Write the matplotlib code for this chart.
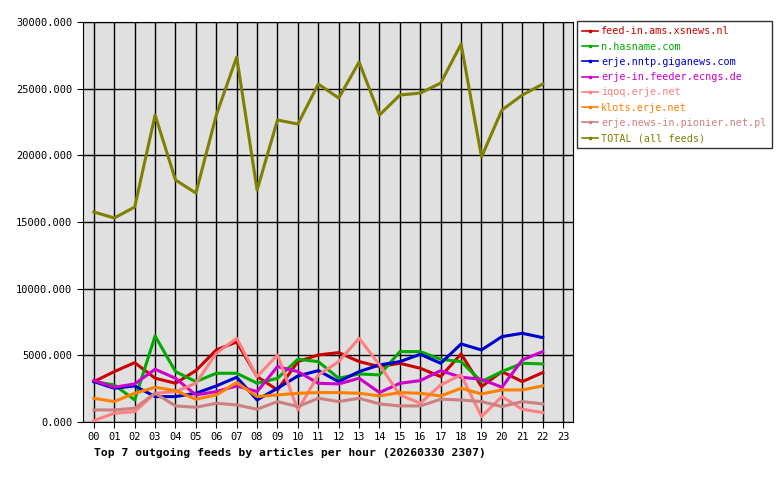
import matplotlib
matplotlib.use("Agg")
import matplotlib.pyplot as plt
from matplotlib.lines import Line2D

hours = [f"{h:02d}" for h in range(24)]
names = ["feed-in.ams.xsnews.nl", "n.hasname.com", "erje.nntp.giganews.com",
         "erje-in.feeder.ecngs.de", "iqoq.erje.net", "klots.erje.net",
         "erje.news-in.pionier.net.pl", "TOTAL (all feeds)"]
colors = ["#cc0000", "#00aa00", "#0000cc", "#cc00cc", "#ff8080", "#ff8000", "#cc8080", "#808000"]

red = [3025, 3775, 4450, 3280, 2900, 3850, 5400, 6000, 3400, 2400, 4525, 5025, 5200, 4525, 4150, 4400, 4025, 3400, 5100, 2650, 3775, 3025, 3700]
green = [3025, 2775, 1650, 6450, 3775, 3025, 3650, 3650, 2900, 3275, 4700, 4525, 3275, 3600, 3525, 5275, 5275, 4700, 4525, 3025, 3775, 4400, 4350]
blue = [3025, 2525, 2700, 1900, 1900, 2150, 2700, 3350, 1650, 2525, 3450, 3850, 3025, 3775, 4275, 4525, 5075, 4400, 5850, 5400, 6400, 6650, 6325]
magenta = [3100, 2600, 2850, 3950, 3275, 2025, 2275, 2700, 2275, 4150, 3775, 2900, 2850, 3275, 2200, 2900, 3100, 3850, 3350, 3200, 2600, 4650, 5275]
pink = [100, 650, 775, 2150, 2275, 2900, 5150, 6275, 3400, 5025, 900, 3525, 4525, 6275, 4275, 2025, 1400, 2775, 3525, 400, 1900, 950, 700]
orange = [1775, 1525, 2150, 2600, 2350, 1700, 2025, 2950, 1900, 2025, 2150, 2200, 2200, 2150, 1950, 2200, 2150, 1950, 2525, 2100, 2400, 2400, 2700]
brown = [900, 900, 1025, 2150, 1200, 1100, 1400, 1275, 950, 1525, 1150, 1775, 1525, 1775, 1350, 1200, 1200, 1700, 1650, 1525, 1150, 1525, 1350]
total = [15750, 15300, 16125, 23025, 18150, 17175, 23025, 27375, 17400, 22650, 22350, 25350, 24300, 27000, 23025, 24525, 24675, 25425, 28350, 19875, 23400, 24525, 25350]
series = [red, green, blue, magenta, pink, orange, brown, total]

plt.rcParams['font.family'] = ['DejaVu Sans Mono']
fig = plt.figure(figsize=(7.8, 4.8), dpi=100)
ax = fig.add_axes([0.106, 0.121, 0.629, 0.833])
ax.set_facecolor("#e0e0e0")
for s, c in zip(series, colors):
    ax.plot(range(len(s)), s, color=c, lw=2.2, zorder=3)
ax.set_xlim(-0.55, 23.5)
ax.set_ylim(0, 30000)
ax.set_xticks(range(24))
ax.set_xticklabels(hours, fontsize=7.5)
ax.set_yticks(range(0, 30001, 5000))
ax.set_yticklabels([f"{v}.000" for v in range(0, 30001, 5000)], fontsize=7.5)
ax.grid(True, color="black", lw=1)
ax.set_axisbelow(True)
for sp in ax.spines.values():
    sp.set_color("black")
ax.tick_params(length=4, color="black")
fig.text(0.12, 0.05, "Top 7 outgoing feeds by articles per hour (20260330 2307)",
         fontsize=8.2, fontweight="bold")
handles = [Line2D([0], [0], color=c, lw=1.2, marker="s", markersize=2) for c in colors]
leg = fig.legend(handles, names, loc="upper left", bbox_to_anchor=(0.737, 0.96),
                 fontsize=7.3, frameon=True, fancybox=False, handlelength=1.6,
                 handletextpad=0.3, borderpad=0.5, borderaxespad=0.2, labelspacing=0.52)
leg.get_frame().set_edgecolor("black")
for t, c in zip(leg.get_texts(), colors):
    t.set_color(c)
fig.savefig("out.png")
